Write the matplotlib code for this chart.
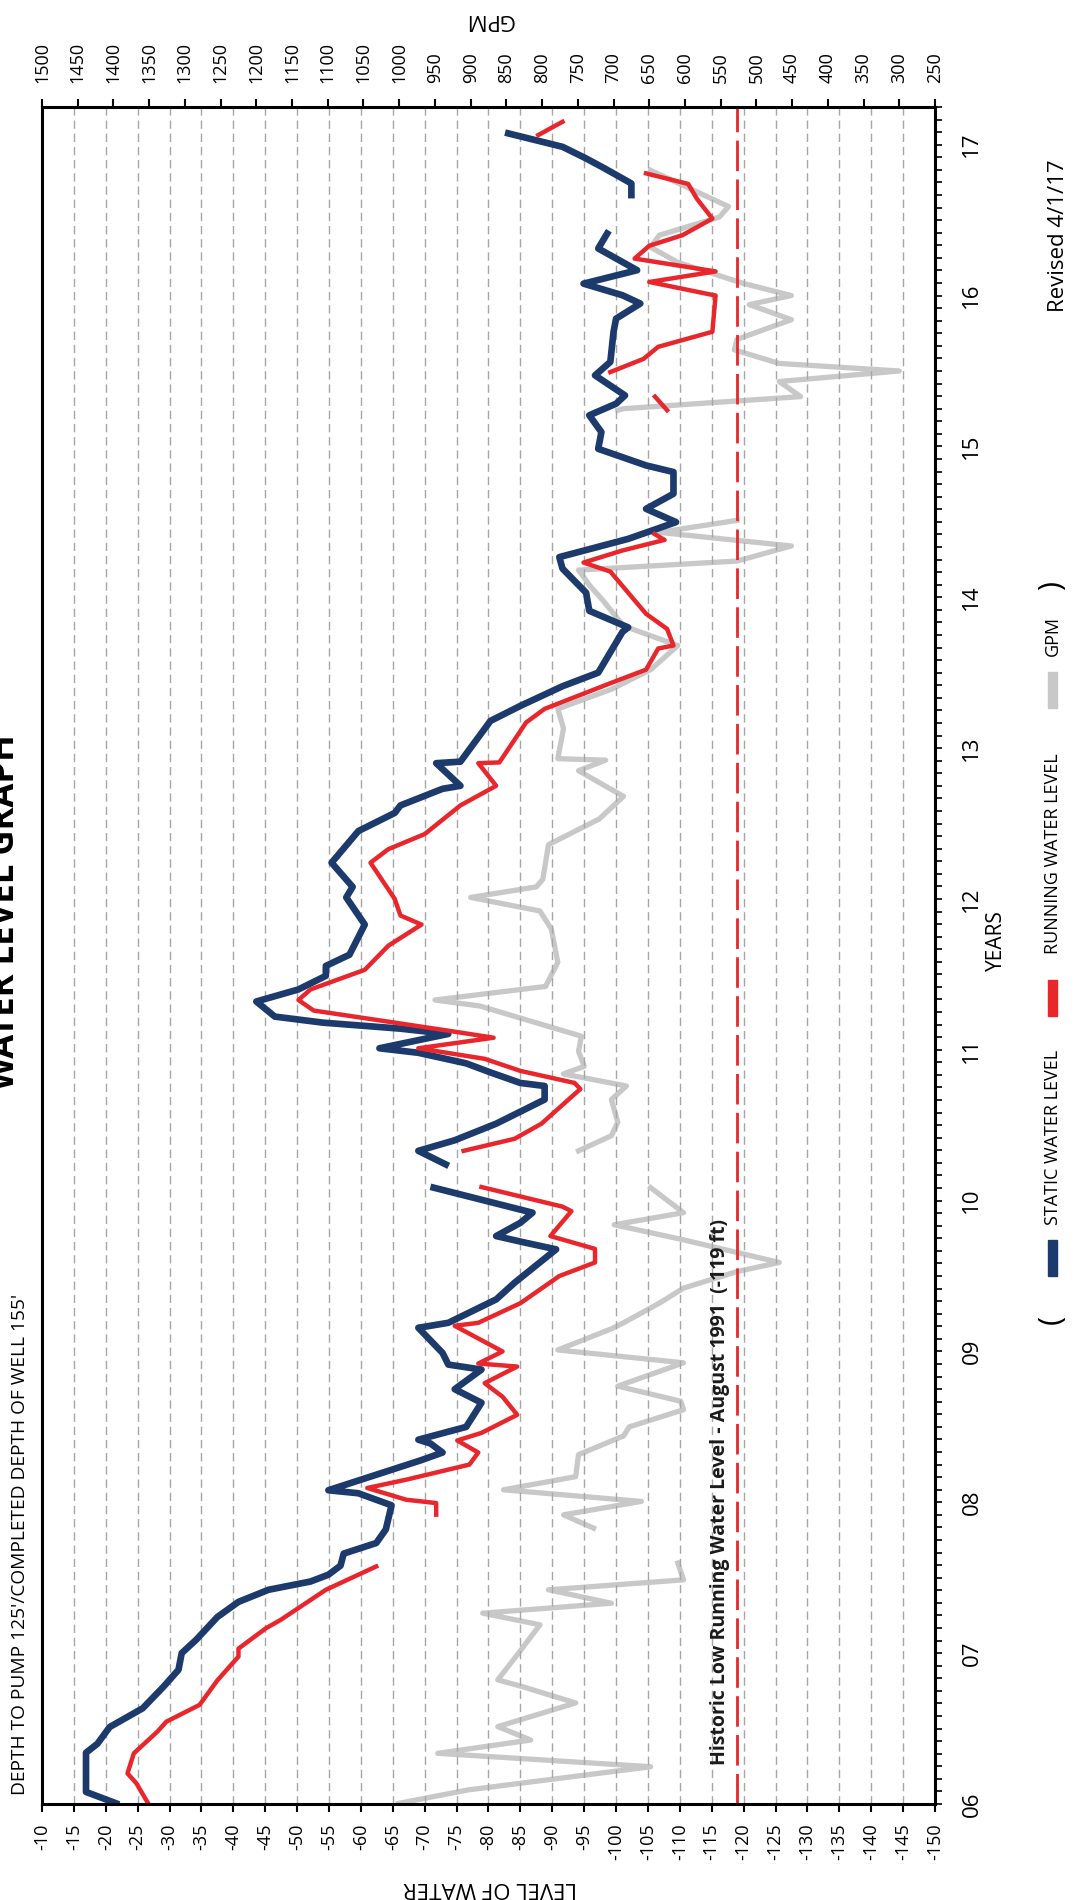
import numpy as np
import matplotlib
matplotlib.use("Agg")
from matplotlib import pyplot as plt
from matplotlib.patches import Rectangle

nan = np.nan

# 1. DATA (years as 06.xx ... 17.xx, NaN = gap in the record)

static_years = [6.005, 6.08, 6.34, 6.40, 6.51, 6.635, 6.78, 6.89, 7.00, 7.09, 7.24, 7.34,
                7.42, 7.475, 7.52, 7.58, 7.66, 7.73, 7.82, 7.98, 8.06, 8.08, 8.28, 8.33,
                8.39, 8.415, 8.50, 8.66, 8.75, 8.88, 8.913, 8.99, 9.157, 9.19, 9.345, 9.456,
                9.677, 9.72, 9.765, 9.853, 9.92, 10.086, nan,
                10.24, 10.33, 10.40, 10.51, 10.67, 10.76, 10.78, 10.85, 10.91, 10.98, 11.01,
                11.105, 11.14, 11.18, 11.22, 11.32, 11.40, 11.49, 11.556, 11.63, 11.83, 12.01,
                12.08, 12.24, 12.45, 12.57, 12.62, 12.73, 12.75, 12.90, 12.91, 13.18, 13.28,
                13.41, 13.50, 13.77, 13.80, 13.91, 14.03, 14.19, 14.266, 14.387, 14.498, 14.586,
                14.686, 14.83, 14.874, 14.984, 15.095, 15.206, 15.283, 15.338, 15.471, 15.56,
                15.758, 15.847, 15.947, 16.002, 16.079, 16.168, 16.312, 16.411, nan,
                16.666, 16.743, 16.843, 16.909, 16.986, 17.075]
static_level = [-21.6, -16.9, -16.9, -18.7, -20.6, -25.8, -29.1, -31.4, -31.9, -34.2, -37.5, -40.8,
                -45.5, -52.1, -54.9, -56.8, -57.3, -62.4, -63.9, -64.8, -59.6, -54.9, -69.5, -72.8,
                -70.9, -69.0, -76.5, -78.9, -74.7, -78.9, -73.7, -72.8, -69.0, -73.7, -81.2, -84.1,
                -90.6, -85.9, -81.2, -85.0, -86.9, -71.4, nan,
                -73.3, -69.0, -74.7, -81.2, -88.8, -88.8, -85.0, -80.3, -76.5, -69.0, -62.9,
                -73.7, -66.2, -54.0, -46.5, -43.6, -50.2, -54.5, -54.5, -58.2, -60.6, -57.7,
                -58.7, -55.4, -59.6, -65.3, -66.2, -72.8, -75.6, -71.8, -75.6, -80.3, -85.0,
                -91.6, -97.2, -101.0, -101.9, -95.8, -95.3, -91.6, -91.1, -101.9, -109.4, -104.7,
                -109.0, -109.0, -104.7, -97.2, -97.7, -95.8, -100.0, -101.4, -96.7, -99.1,
                -99.6, -100.0, -103.8, -101.0, -94.9, -103.3, -97.2, -98.6, nan,
                -102.4, -102.4, -98.2, -95.3, -91.6, -83.1]

running_years = [6.0, 6.137, 6.203, 6.336, 6.48, 6.546, 6.657, 6.82, 6.977, 7.03, 7.165, 7.22,
                 7.42, 7.575, nan,
                 7.918, 7.995, 8.017, 8.095, 8.15, 8.25, 8.33, 8.41, 8.46, 8.58, 8.70, 8.79,
                 8.90, 8.92, 9.00, 9.17, 9.19, 9.32, 9.50, 9.59, 9.68, 9.765, 9.93, 9.96, 10.09, nan,
                 10.33, 10.41, 10.51, 10.74, 10.78, 10.86, 10.94, 11.01, 11.08, 11.12, 11.18,
                 11.26, 11.33, 11.40, 11.53, 11.69, 11.83, 11.89, 12.00, 12.24, 12.33, 12.43,
                 12.62, 12.75, 12.90, 12.905, 13.17, 13.26, 13.43, 13.52, 13.66, 13.68, 13.79,
                 13.89, 14.17, 14.23, 14.31, 14.38, 14.42, nan,
                 15.24, 15.33, nan,
                 15.493, 15.58, 15.66, 15.76, 16.00, 16.09, 16.16, 16.245, 16.33, 16.40, 16.51,
                 16.64, 16.74, 16.81, nan,
                 17.064, 17.152]
running_level = [-26.7, -24.8, -23.4, -24.4, -28.1, -29.5, -34.7, -37.5, -40.8, -40.8, -45.1, -47.4,
                 -54.5, -62.4, nan,
                 -71.8, -71.8, -67.1, -61.0, -67.1, -77.0, -78.4, -75.1, -78.9, -84.5, -82.2, -79.4,
                 -84.5, -78.4, -82.2, -74.7, -78.4, -85.0, -91.1, -96.7, -96.7, -89.7, -93.0, -91.6, -78.9, nan,
                 -76.1, -84.1, -88.3, -94.4, -93.5, -85.0, -79.4, -69.0, -80.8, -74.7, -65.3,
                 -52.6, -50.2, -52.1, -60.6, -64.3, -69.5, -66.2, -65.3, -61.5, -64.3, -70.0,
                 -75.6, -81.2, -78.4, -81.7, -85.9, -88.8, -99.1, -104.7, -106.6, -109.0, -108.0,
                 -104.7, -99.1, -94.9, -101.0, -107.6, -106.0, nan,
                 -108.0, -106.1, nan,
                 -99.1, -104.3, -106.6, -115.1, -115.6, -105.2, -115.6, -102.9, -105.2, -110.4, -115.1,
                 -112.7, -111.3, -104.7, nan,
                 -87.8, -91.6]

gpm_years = [6.004, 6.093, 6.247, 6.336, 6.424, 6.513, 6.67, 6.78, 6.823, 7.0, 7.188, 7.265,
             7.331, 7.42, 7.486, 7.597, nan,
             7.829, 7.917, 8.006, 8.083, 8.17, 8.316, 8.44, 8.50, 8.614, 8.67, 8.77, 8.925,
             9.01, 9.15, 9.19, 9.32, 9.42, 9.53, 9.59, 9.74, 9.84, 9.92, 10.086, nan,
             10.33, 10.43, 10.52, 10.67, 10.76, 10.84, 10.89, 10.99, 11.09, 11.29, 11.33, 11.42,
             11.58, 11.80, 11.92, 12.01, 12.08, 12.13, 12.36, 12.53, 12.68, 12.85, 12.92, 12.93,
             13.13, 13.26, 13.39, 13.52, 13.68, 13.81, 13.98, 14.07, 14.18, 14.24, 14.34, 14.43,
             14.51, nan,
             15.24, 15.25, 15.33, 15.43, 15.50, 15.55, 15.64, 15.71, 15.84, 15.94, 16.00, 16.08,
             16.22, 16.32, 16.40, 16.52, 16.59, 16.83]
gpm_values = [1001, 904, 648, 946, 816, 862, 753, 829, 862, 833, 803, 883,
              703, 791, 602, 610, nan,
              728, 770, 661, 854, 753, 749, 686, 678, 602, 606, 694, 602,
              778, 703, 686, 636, 602, 527, 468, 602, 699, 602, 648, nan,
              749, 703, 694, 703, 682, 770, 741, 749, 745, 887, 950, 795,
              778, 787, 803, 900, 808, 799, 791, 720, 686, 749, 711, 778,
              770, 778, 703, 648, 610, 686, 715, 732, 749, 527, 451, 636,
              527, nan,
              694, 686, 438, 468, 300, 468, 531, 527, 451, 510, 451, 518,
              610, 648, 636, 552, 539, 648]

historic_low = -119
historic_note = "Historic Low Running Water Level - August 1991  (-119 ft)"

level_ticks = list(range(-10, -151, -5))
level_labels = [str(v) for v in level_ticks]
gpm_ticks = list(range(1500, 249, -50))
gpm_labels = [str(v) for v in gpm_ticks]
year_ticks = list(range(6, 18))
year_labels = ["%02d" % y for y in year_ticks]

navy = "#1c3a6c"
red = "#e8262b"
grey = "#c8c8c8"
narrow = ["Liberation Sans Narrow", "Open Sans", "DejaVu Sans"]

plt.rcParams["font.family"] = ["Open Sans", "DejaVu Sans"]
plt.rcParams["axes.unicode_minus"] = False

# 2. AXES (chart is printed turned on its side)
W, H = 1075, 1900
fig = plt.figure(figsize=(W / 100, H / 100), dpi=100)
ax = fig.add_axes([42 / W, 1 - 1804 / H, (935 - 42) / W, (1804 - 107) / H])
ax2 = ax.twiny()
ax.set_zorder(2)
ax2.set_zorder(1)
ax.patch.set_visible(False)

ax2.plot(gpm_values, gpm_years, color=grey, lw=3.8)
ax.plot(static_level, static_years, color=navy, lw=4.8)
ax.plot(running_level, running_years, color=red, lw=3.2)
ax.axvline(historic_low, color=red, lw=2.0, dashes=(11, 3))
ax.text(historic_low + 2.7, 6.26, historic_note, rotation=90, ha="center", va="bottom",
        fontsize=14, fontweight="bold", color="#1a1a1a")

ax.set_xlim(-10, -150)
ax.set_ylim(6, 17.25)
ax.set_axisbelow(True)
ax.grid(axis="x", color="#a6a6a6", lw=1.0, linestyle=(0, (6, 3.5)))
ax.grid(axis="y", visible=False)

ax.set_xticks(level_ticks)
ax.set_xticklabels(level_labels, rotation=90)
ax.tick_params(axis="x", direction="out", length=6, width=1.5, pad=8, labelsize=13)

ax.yaxis.tick_right()
ax.set_yticks(year_ticks)
ax.set_yticklabels(year_labels, rotation=90, va="center", family=narrow)
ax.set_yticks(np.arange(6, 17.26, 1 / 12), minor=True)
ax.tick_params(axis="y", which="both", direction="out", length=5, width=1.2, pad=14, labelsize=16)

ax2.set_xlim(1500, 250)
ax2.set_xticks(gpm_ticks)
ax2.set_xticklabels(gpm_labels, rotation=90)
ax2.tick_params(axis="x", direction="out", length=6, width=1.5, pad=11, labelsize=13)

for s in ax.spines.values():
    s.set_linewidth(2.2)
    s.set_color("black")
for s in ax2.spines.values():
    s.set_visible(False)

# 3. TEXTS
fig.text(23 / W, 1 - 912 / H, "WATER LEVEL GRAPH", rotation=90, ha="right", va="center",
         fontsize=25, fontweight="bold")
fig.text(20 / W, 1 - 1795 / H, "DEPTH TO PUMP 125'/COMPLETED DEPTH OF WELL 155'", rotation=90,
         ha="center", va="bottom", fontsize=13.8)
fig.text(490 / W, 1 - 1888 / H, "LEVEL OF WATER", rotation=180, ha="center", va="center", fontsize=16)
fig.text(489 / W, 1 - 19 / H, "GPM", rotation=180, ha="center", va="center", fontsize=16)
fig.text(996 / W, 1 - 941 / H, "YEARS", rotation=90, ha="center", va="center", fontsize=15, family=narrow)
fig.text(1058 / W, 1 - 236 / H, "Revised 4/1/17", rotation=90, ha="center", va="center",
         fontsize=16, family=narrow)

# legend, turned like the rest
legend_items = [("STATIC WATER LEVEL", navy, 1258, 1137),
                ("RUNNING WATER LEVEL", red, 998, 854),
                ("GPM", grey, 690, 636)]
for label, col, patch_y, text_y in legend_items:
    fig.add_artist(Rectangle((1048 / W, 1 - (patch_y + 18) / H), 9 / W, 36 / H,
                             transform=fig.transFigure, color=col))
    fig.text(1053 / W, 1 - text_y / H, label, rotation=90, ha="center", va="center",
             fontsize=13, family=narrow)
fig.text(1052 / W, 1 - 1319 / H, "(", rotation=90, ha="center", va="center", fontsize=22, family=narrow)
fig.text(1052 / W, 1 - 585 / H, ")", rotation=90, ha="center", va="center", fontsize=22, family=narrow)

fig.savefig("out.png", dpi=100)
